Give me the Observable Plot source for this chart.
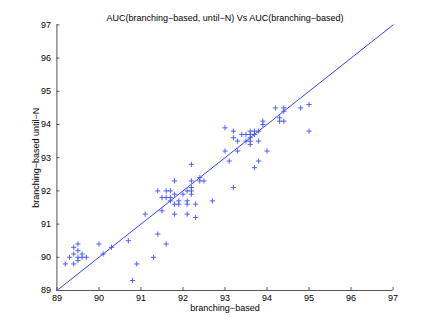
<!DOCTYPE html>
<html><head><meta charset="utf-8">
<script src="https://cdn.jsdelivr.net/npm/d3@7"></script>
<script src="https://cdn.jsdelivr.net/npm/@observablehq/plot@0.6"></script>
<style>
html,body{margin:0;padding:0;background:#fff;}
#chart{width:434px;height:326px;}
</style>
</head><body><div id="chart"></div>
<script>
const chartTitle = "AUC(branching−based, until−N) Vs AUC(branching−based)";
const xLabel = "branching−based";
const yLabel = "branching−based until−N";
const tickValues = [89, 90, 91, 92, 93, 94, 95, 96, 97];
const diagonal = [89, 97];
const xValues = [
  89.2, 89.3, 89.4, 89.4, 89.4, 89.5, 89.5, 89.5, 89.6, 89.6, 89.7, 89.5,
  90.0, 90.1, 90.3, 90.7, 90.8, 90.9, 91.1, 91.3, 91.4, 91.6, 91.5,
  91.4, 91.5, 91.6, 91.6, 91.7, 91.7, 91.7, 91.8, 91.8, 91.8, 91.8,
  91.9, 91.9, 92.0, 92.1, 92.1, 92.1, 92.1, 92.2, 92.2, 92.2, 92.2, 92.2,
  92.3, 92.3, 92.4, 92.4, 92.5, 92.7,
  93.0, 93.0, 93.1, 93.2, 93.2, 93.2, 93.3, 93.3, 93.4, 93.5, 93.5,
  93.6, 93.6, 93.6, 93.6, 93.6, 93.7, 93.7, 93.7, 93.8, 93.8, 93.8,
  93.9, 93.9, 94.0, 94.2, 94.3, 94.3, 94.4, 94.4, 94.4, 94.8, 95.0, 95.0
];
const yValues = [
  89.8, 90.0, 90.3, 90.1, 89.8, 90.4, 90.2, 89.9, 90.1, 90.0, 90.0, 90.0,
  90.4, 90.1, 90.3, 90.5, 89.3, 89.8, 91.3, 90.0, 90.7, 90.4, 91.4,
  92.0, 91.8, 92.0, 91.8, 92.0, 91.8, 91.7, 92.3, 91.9, 91.6, 91.3,
  91.7, 91.6, 91.9, 92.0, 91.7, 91.6, 91.3, 92.8, 92.3, 92.1, 92.0, 91.9,
  91.6, 91.2, 92.4, 92.3, 92.3, 91.7,
  93.9, 93.2, 92.9, 92.1, 93.8, 93.6, 93.5, 93.2, 93.7, 93.7, 93.5,
  93.8, 93.7, 93.6, 93.4, 93.5, 93.8, 93.7, 92.7, 93.8, 93.5, 92.9,
  94.1, 94.0, 93.2, 94.5, 94.2, 94.1, 94.5, 94.4, 94.1, 94.5, 94.6, 93.8
];

const points = xValues.map((x, i) => ({x, y: yValues[i]}));
const diagRows = diagonal.map(v => ({x: v, y: v}));

const plusSymbol = {
  draw(context, size) {
    const r = Math.sqrt(size / Math.PI);
    context.moveTo(-r, 0); context.lineTo(r, 0);
    context.moveTo(0, -r); context.lineTo(0, r);
  }
};

const font = "'Liberation Sans', Arial, Helvetica, sans-serif";
const chart = Plot.plot({
  width: 434, height: 326,
  marginLeft: 56.4, marginRight: 41.4, marginTop: 24.4, marginBottom: 36,
  style: {fontFamily: font, fontSize: "9px", background: "#fff", color: "#000", overflow: "visible"},
  x: {domain: [89, 97]},
  y: {domain: [89, 97]},
  marks: [
    Plot.ruleX([89], {stroke: "#555", strokeWidth: 1}),
    Plot.ruleY([89], {stroke: "#555", strokeWidth: 1}),
    Plot.axisX({ticks: tickValues, tickSize: -3, tickPadding: 7, stroke: "#555", label: xLabel, labelAnchor: "center", labelArrow: "none", labelOffset: 20, tickFormat: d => String(d)}),
    Plot.axisY({ticks: tickValues, tickSize: -3, tickPadding: 9, stroke: "#555", label: yLabel, labelAnchor: "center", labelArrow: "none", labelOffset: 24, tickFormat: d => String(d)}),
    Plot.line(diagRows, {x: "x", y: "y", stroke: "#3344ff", strokeWidth: 1}),
    Plot.dot(points, {x: "x", y: "y", symbol: plusSymbol, r: 2.6, stroke: "#4050ff", strokeWidth: 0.9}),
    Plot.text([chartTitle], {text: d => d, frameAnchor: "top", dy: -10, fontSize: 9, fill: "#000"})
  ]
});
document.getElementById("chart").appendChild(chart);
</script>
</body></html>
